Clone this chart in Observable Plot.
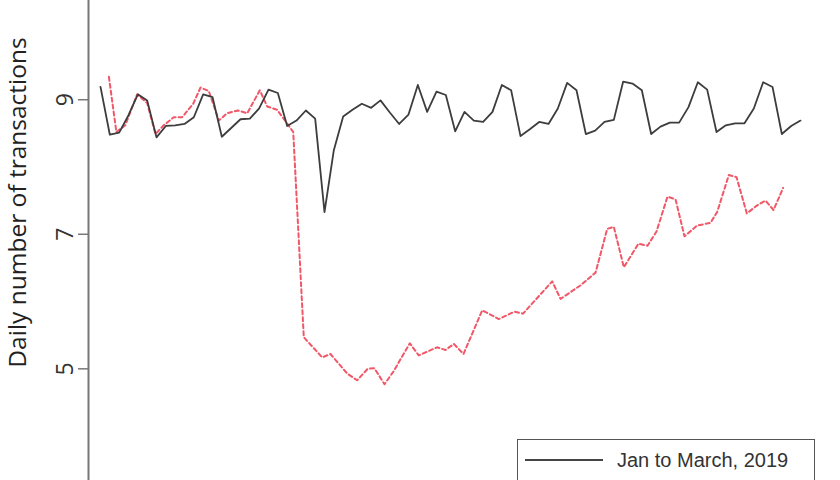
<!DOCTYPE html>
<html>
<head>
<meta charset="utf-8">
<script src="https://cdn.jsdelivr.net/npm/d3@7"></script>
<script src="https://cdn.jsdelivr.net/npm/@observablehq/plot@0.6"></script>
<style>
  html, body { margin: 0; padding: 0; background: #fff; overflow: hidden; }
  #wrap { position: relative; width: 840px; height: 480px; overflow: hidden; background: #fff; }
  #legend {
    position: absolute; left: 517px; top: 439px; width: 298px; height: 80px;
    box-sizing: border-box; border: 1.5px solid #555; background: #fff;
    font-family: "Liberation Sans", Arial, sans-serif; font-size: 20px; color: #333;
  }
  #legend .swatch { position: absolute; left: 7px; top: 19px; width: 78px; height: 0; border-top: 2px solid #444; }
  #legend .label { position: absolute; left: 99px; top: 10px; line-height: 20px; white-space: nowrap; }
</style>
</head>
<body>
<div id="wrap">
  <div id="chart"></div>
  <div id="legend"><div class="swatch"></div><div class="label">Jan to March, 2019</div></div>
</div>
<script>
// ---- data ----
const yTicks = [5, 7, 9];
const yLabel = "Daily number of transactions";

// Black solid series: one value per day (day 0 .. 75)
const blackValues = [
  9.19, 8.48, 8.51, 8.77, 9.08, 8.99, 8.44, 8.61, 8.62, 8.64,
  8.74, 9.08, 9.04, 8.45, 8.58, 8.71, 8.72, 8.87, 9.15, 9.10,
  8.61, 8.69, 8.84, 8.72, 7.33, 8.25, 8.75, 8.85, 8.94, 8.88,
  8.99, 8.81, 8.64, 8.78, 9.22, 8.82, 9.12, 9.07, 8.53, 8.82,
  8.69, 8.67, 8.82, 9.22, 9.14, 8.46, 8.56, 8.67, 8.64, 8.87,
  9.25, 9.14, 8.49, 8.54, 8.67, 8.70, 9.27, 9.24, 9.14, 8.49,
  8.60, 8.66, 8.66, 8.89, 9.26, 9.15, 8.52, 8.62, 8.65, 8.65,
  8.87, 9.26, 9.19, 8.49, 8.61, 8.69
];

// Red dashed series: positions (in the same day units) and values of its vertices
const redDays = [
  0.9, 1.7, 2.65, 3.93, 5.0, 5.89, 6.78, 7.85, 8.75, 9.93,
  10.71, 11.6, 12.68, 13.57, 14.71, 15.72, 17.07, 17.86, 18.93, 20.65,
  21.78, 23.75, 24.64, 26.43, 27.5, 28.63, 29.34, 30.43, 31.43, 33.14,
  34.1, 36.07, 36.96, 37.86, 38.89, 40.9, 42.68, 44.36, 45.27, 48.4,
  49.29, 51.43, 53.04, 54.29, 55.0, 56.07, 57.64, 58.61, 59.57, 60.75,
  61.61, 62.57, 63.93, 65.36, 66.07, 67.32, 68.14, 69.25, 70.36, 71.25,
  72.11, 73.14
];
const redValues = [
  9.34, 8.52, 8.62, 9.08, 8.95, 8.49, 8.62, 8.74, 8.74, 8.94,
  9.18, 9.13, 8.69, 8.80, 8.84, 8.80, 9.14, 8.90, 8.85, 8.52,
  5.47, 5.17, 5.22, 4.93, 4.83, 5.00, 5.01, 4.77, 4.97, 5.38,
  5.20, 5.32, 5.28, 5.37, 5.22, 5.87, 5.74, 5.85, 5.82, 6.30,
  6.04, 6.24, 6.43, 7.08, 7.11, 6.51, 6.86, 6.83, 7.04, 7.56,
  7.52, 6.97, 7.13, 7.17, 7.33, 7.88, 7.85, 7.31, 7.43, 7.50,
  7.36, 7.69
];

// ---- tables built from the arrays ----
const black = blackValues.map((v, i) => ({day: i, value: v}));
const red = redValues.map((v, i) => ({day: redDays[i], value: v}));

const xDomain = [-1.286, 79.286];
const yDomain = [3.34, 10.475];

const chart = Plot.plot({
  width: 840,
  height: 480,
  marginLeft: 88,
  marginRight: 0,
  marginTop: 0,
  marginBottom: 0,
  style: {background: "#fff", overflow: "visible"},
  x: {domain: xDomain, axis: null},
  y: {domain: yDomain, axis: null},
  marks: [
    Plot.ruleX([xDomain[0]], {stroke: "#777", strokeWidth: 2}),
    Plot.axisY({ticks: yTicks, tickSize: 10, tickFormat: () => "", label: null, stroke: "#777", strokeWidth: 1.5}),
    Plot.text(yTicks, {
      y: d => d, text: d => String(d), frameAnchor: "left", textAnchor: "middle", lineAnchor: "middle",
      dx: -23, rotate: -90, fontSize: 23, fill: "#333", fontFamily: "Open Sans"
    }),
    Plot.text([yLabel], {
      text: d => d, frameAnchor: "left", textAnchor: "middle", lineAnchor: "middle",
      dx: -70, dy: -38, rotate: -90, fontSize: 24.5, fill: "#222", fontFamily: "Open Sans"
    }),
    Plot.line(red, {x: "day", y: "value", stroke: "#f05868", strokeWidth: 2, strokeDasharray: "4,3"}),
    Plot.line(black, {x: "day", y: "value", stroke: "#3d3d3d", strokeWidth: 1.8})
  ]
});
document.getElementById("chart").appendChild(chart);
</script>
</body>
</html>
